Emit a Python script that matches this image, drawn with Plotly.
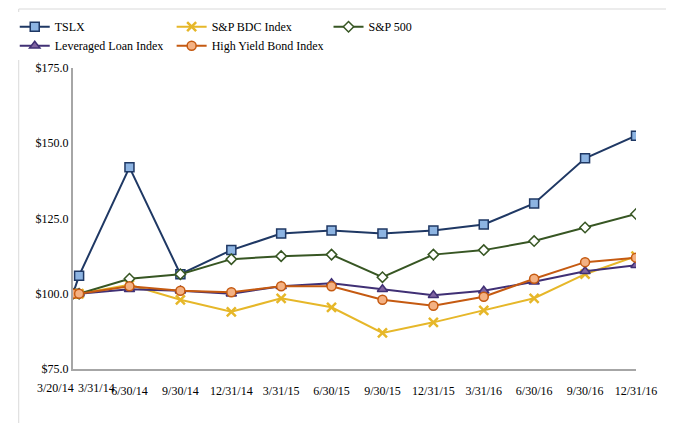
import plotly.graph_objects as go

dates = ["2014-03-20", "2014-03-31", "2014-06-30", "2014-09-30", "2014-12-31",
         "2015-03-31", "2015-06-30", "2015-09-30", "2015-12-31",
         "2016-03-31", "2016-06-30", "2016-09-30", "2016-12-31"]
tick_labels = ["3/20/14", "3/31/14", "6/30/14", "9/30/14", "12/31/14", "3/31/15", "6/30/15",
               "9/30/15", "12/31/15", "3/31/16", "6/30/16", "9/30/16", "12/31/16"]

tslx = [100, 106, 142, 106.5, 114.5, 120, 121, 120, 121, 123, 130, 145, 152.5]
bdc = [100, 100, 103, 98, 94, 98.5, 95.5, 87, 90.5, 94.5, 98.5, 106.5, 112.5]
sp500 = [100, 100, 105, 106.5, 111.5, 112.5, 113, 105.5, 113, 114.5, 117.5, 122, 126.5]
lev_loan = [100, 100, 101.5, 101, 100, 102.5, 103.5, 101.5, 99.5, 101, 104, 107.5, 109.5]
high_yield = [100, 100, 102.5, 101, 100.5, 102.5, 102.5, 98, 96, 99, 105, 110.5, 112]

series = [
    ("TSLX", tslx, "#1F3864", dict(symbol="square", color="#8DB4E2", size=9), 1.5),
    ("S&P BDC Index", bdc, "#E6B729", dict(symbol="x-thin", color="#E6B729", size=9), 2.5),
    ("S&P 500", sp500, "#375623", dict(symbol="diamond", color="white", size=8), 1.5),
    ("Leveraged Loan Index", lev_loan, "#403075", dict(symbol="triangle-up", color="#8064A2", size=9), 1.5),
    ("High Yield Bond Index", high_yield, "#C55A11", dict(symbol="circle", color="#F4B183", size=9), 1.5),
]

fig = go.Figure()
for name, vals, col, mk, mw in series:
    mk = dict(mk)
    mk["line"] = dict(color=col, width=mw)
    fig.add_trace(go.Scatter(x=dates, y=vals, name=name, mode="lines+markers",
                             line=dict(color=col, width=2), marker=mk))

fig.update_layout(
    width=674, height=423,
    plot_bgcolor="white", paper_bgcolor="white",
    font=dict(family="Liberation Serif", size=12, color="black"),
    margin=dict(l=65, r=46, t=60, b=62, autoexpand=False),
    legend=dict(orientation="h", x=0.01, y=0.99, xref="container", yref="container",
                xanchor="left", yanchor="top", font=dict(size=12),
                itemwidth=30, tracegroupgap=0),
    xaxis=dict(type="date", range=["2014-03-20", "2016-12-31"],
               tickvals=dates[2:], ticktext=tick_labels[2:],
               showgrid=False, showline=True, linecolor="#A6A6A6", linewidth=2,
               ticks="outside", ticklen=10, tickcolor="white"),
    yaxis=dict(range=[75, 175], tickvals=[75, 100, 125, 150, 175],
               ticktext=["$75.0", "$100.0", "$125.0", "$150.0", "$175.0"],
               showgrid=False, showline=True, linecolor="#A6A6A6", linewidth=2,
               ticks="", zeroline=False),
    shapes=[dict(type="rect", xref="paper", yref="paper", x0=-0.0964, x1=1.0817,
                 y0=-0.205, y1=1.196, line=dict(color="#D9D9D9", width=1))],
)
# first two date labels are too close together, so place them by hand
fig.add_annotation(x=dates[0], y=0, yref="paper", text=tick_labels[0], showarrow=False,
                   yanchor="top", yshift=-10, xshift=-18)
fig.add_annotation(x=dates[1], y=0, yref="paper", text=tick_labels[1], showarrow=False,
                   yanchor="top", yshift=-10, xshift=17)

fig.write_html("out.html")
